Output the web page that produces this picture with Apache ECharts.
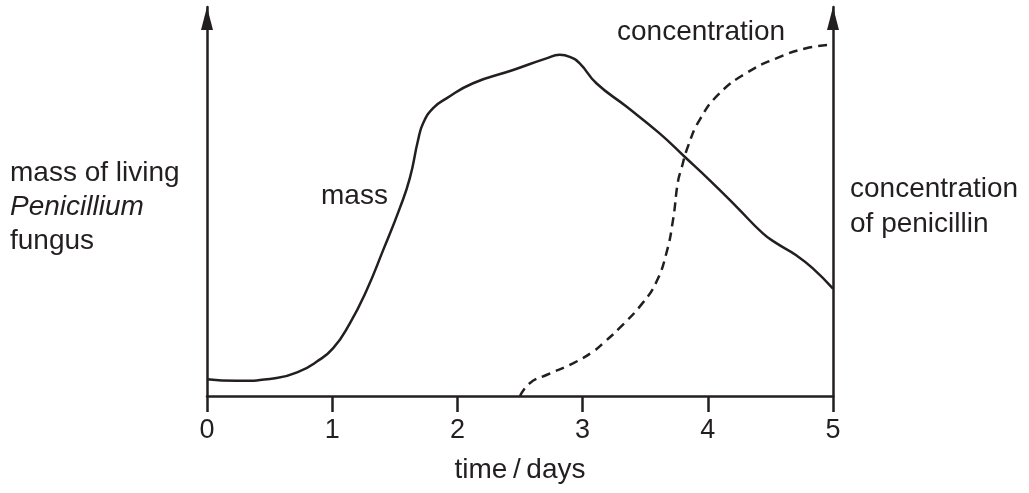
<!DOCTYPE html>
<html>
<head>
<meta charset="utf-8">
<script src="https://cdn.jsdelivr.net/npm/echarts@6/dist/echarts.min.js"></script>
<style>
html,body{margin:0;padding:0;background:#fff;}
#chart{width:1029px;height:493px;}
</style>
</head>
<body>
<div id="chart"></div>
<script>
// time (days) and relative mass of living Penicillium fungus
var massDays   = [0, 0.237, 0.556, 0.742, 0.875, 1.008, 1.141, 1.275, 1.407, 1.54, 1.62, 1.686, 1.726, 1.806, 1.913, 2.125, 2.445, 2.711, 2.817, 2.897, 2.977, 3.11, 3.35, 3.615, 3.815, 4.014, 4.228, 4.44, 4.547, 4.706, 4.839, 5.0];
var massValues = [4.3, 3.9, 4.6, 6.4, 8.8, 12.3, 18.7, 27.2, 37.5, 48.3, 56.0, 65.8, 70.1, 74.0, 76.5, 80.4, 83.8, 86.8, 87.7, 87.2, 85.5, 80.4, 74.4, 67.5, 61.5, 55.5, 48.7, 41.8, 39.3, 36.2, 32.8, 27.6];
// time (days) and relative concentration of penicillin
var concDays   = [2.5, 2.578, 2.711, 2.923, 3.083, 3.176, 3.296, 3.482, 3.589, 3.669, 3.722, 3.761, 3.788, 3.841, 3.935, 4.094, 4.307, 4.547, 4.786, 5.0];
var concValues = [0, 3.3, 5.4, 8.4, 11.4, 13.9, 17.5, 24.0, 29.3, 36.7, 45.2, 55.0, 58.3, 64.1, 71.0, 77.8, 83.0, 86.8, 89.4, 90.3];
var xTicks = [0, 1, 2, 3, 4, 5];

var INK = '#231f20';
var FONT = "'Liberation Sans', Arial, Helvetica, sans-serif";
var FS = 28;
var TICK_FS = 27;

function pairs(xs, ys) { return xs.map(function (x, i) { return [x, ys[i]]; }); }

var chart = echarts.init(document.getElementById('chart'), null, {renderer: 'canvas'});

function yAxisDef(pos) {
  return {
    type: 'value', position: pos, min: 0, max: 100,
    axisLine: {show: true, symbol: ['none', 'triangle'], symbolSize: [12, 23], symbolOffset: [0, -11.5],
      lineStyle: {color: INK, width: 2.5}},
    axisTick: {show: false}, axisLabel: {show: false}, splitLine: {show: false}
  };
}

var textStyleBase = {fill: INK, font: FS + 'px ' + FONT, verticalAlign: 'middle'};
function txt(x, y, s, extra) {
  var st = Object.assign({}, textStyleBase, {text: s, align: 'left'}, extra || {});
  return {type: 'text', x: x, y: y, silent: true, style: st};
}

chart.setOption({
  animation: false,
  backgroundColor: '#fff',
  grid: {left: 207, right: 196, top: 7, bottom: 97, containLabel: false},
  xAxis: {
    type: 'value', min: 0, max: 5, interval: 1,
    axisLine: {show: true, onZero: false, lineStyle: {color: INK, width: 2.5}},
    axisTick: {show: true, inside: false, length: 16, lineStyle: {color: INK, width: 2.5}},
    axisLabel: {show: true, color: INK, fontSize: TICK_FS, fontFamily: FONT, margin: 21,
      formatter: function (v) { return xTicks.indexOf(v) >= 0 ? String(v) : ''; }},
    splitLine: {show: false}
  },
  yAxis: [yAxisDef('left'), yAxisDef('right')],
  series: [
    {
      name: 'mass', type: 'line', yAxisIndex: 0, data: pairs(massDays, massValues),
      smooth: 0.5, showSymbol: false, symbol: 'none',
      lineStyle: {color: INK, width: 2.5}
    },
    {
      name: 'concentration', type: 'line', yAxisIndex: 1, data: pairs(concDays, concValues),
      smooth: 0.5, showSymbol: false, symbol: 'none',
      lineStyle: {color: INK, width: 2.5, type: [9, 6]}
    }
  ],
  graphic: [
    txt(10, 173, 'mass of living'),
    txt(10, 207, 'Penicillium', {font: 'italic ' + FS + 'px ' + FONT}),
    txt(10, 241, 'fungus'),
    txt(321, 196, 'mass'),
    txt(617, 32, 'concentration'),
    txt(850, 189, 'concentration'),
    txt(850, 224, 'of penicillin'),
    txt(520, 470, 'time\u2009/\u2009days', {align: 'center'})
  ]
});
</script>
</body>
</html>
